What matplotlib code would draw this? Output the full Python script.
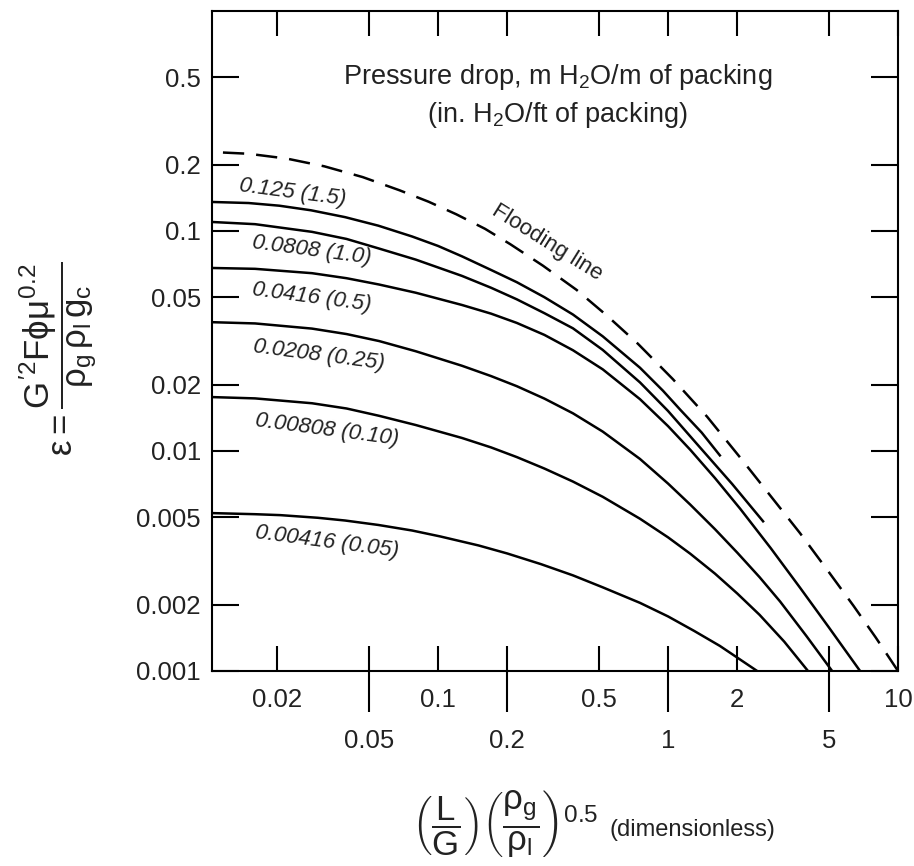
import matplotlib
matplotlib.use("Agg")
import matplotlib.pyplot as plt
from matplotlib.ticker import FixedLocator, NullLocator, NullFormatter

plt.rcParams["font.family"] = ["Liberation Sans", "DejaVu Sans"]
plt.rcParams["mathtext.fontset"] = "custom"
plt.rcParams["mathtext.rm"] = "Liberation Sans"
plt.rcParams["mathtext.it"] = "Liberation Sans"
plt.rcParams["mathtext.sf"] = "Liberation Sans"
plt.rcParams["mathtext.bf"] = "Liberation Sans:bold"

TXT = "#222222"

# flooding line (dashed)
flood_x = [0.0104, 0.015, 0.022, 0.032, 0.047, 0.068, 0.091, 0.12, 0.16, 0.206, 0.286,
           0.40, 0.54, 0.74, 1.05, 1.48, 2.06, 2.86, 3.75, 4.9, 6.4, 8.0, 10.0]
flood_y = [0.2286, 0.2244, 0.2133, 0.1968, 0.1758, 0.1531, 0.1358, 0.1191, 0.1023,
           0.0871, 0.0695, 0.0540, 0.0414, 0.0307, 0.0212, 0.0143, 0.00933, 0.00605,
           0.00423, 0.00290, 0.00198, 0.00142, 0.001]

# constant pressure-drop curves, m H2O/m (in. H2O/ft)
curve_labels = ["0.125 (1.5)", "0.0808 (1.0)", "0.0416 (0.5)",
                "0.0208 (0.25)", "0.00808 (0.10)", "0.00416 (0.05)"]

c125_x = [0.0104, 0.015, 0.0204, 0.028, 0.0394, 0.055, 0.0771, 0.1, 0.127, 0.17,
          0.22, 0.29, 0.386, 0.52, 0.755, 0.95, 1.13, 1.4, 1.68]
c125_y = [0.1355, 0.1340, 0.1303, 0.1242, 0.1156, 0.1057, 0.0944, 0.0855, 0.0767,
          0.0665, 0.0585, 0.0500, 0.0417, 0.0332, 0.0239, 0.0188, 0.0154, 0.01213,
          0.00955]

c0808_x = [0.0104, 0.016, 0.0283, 0.04, 0.0554, 0.08, 0.127, 0.17, 0.22, 0.29,
           0.386, 0.52, 0.755, 1.0, 1.38, 1.9, 2.59]
c0808_y = [0.1099, 0.1074, 0.0991, 0.0920, 0.0832, 0.0741, 0.0625, 0.0552, 0.0489,
           0.0423, 0.0361, 0.0288, 0.0205, 0.0152, 0.01035, 0.00708, 0.00479]

c0416_x = [0.0104, 0.016, 0.0283, 0.04, 0.0554, 0.08, 0.127, 0.17, 0.22, 0.29,
           0.386, 0.52, 0.755, 1.0, 1.25, 1.6, 2.06, 2.8, 3.75, 5.0, 6.84]
c0416_y = [0.0679, 0.0673, 0.0643, 0.0610, 0.0571, 0.0524, 0.0461, 0.0421, 0.0382,
           0.0337, 0.0287, 0.0235, 0.0172, 0.01297, 0.01012, 0.00753, 0.00546,
           0.00361, 0.00239, 0.00158, 0.001]

c0208_x = [0.0104, 0.016, 0.0283, 0.04, 0.0554, 0.08, 0.127, 0.17, 0.22, 0.29,
           0.386, 0.52, 0.755, 1.0, 1.25, 1.6, 2.0, 2.5, 3.07, 4.0, 5.17]
c0208_y = [0.0385, 0.0380, 0.0360, 0.0340, 0.0316, 0.0284, 0.0244, 0.0219, 0.0197,
           0.0173, 0.01483, 0.01225, 0.00920, 0.00711, 0.00570, 0.00441, 0.00345,
           0.00267, 0.00207, 0.00144, 0.001]

c00808_x = [0.0104, 0.016, 0.0283, 0.04, 0.0554, 0.08, 0.127, 0.17, 0.22, 0.29,
            0.386, 0.52, 0.755, 1.0, 1.25, 1.6, 2.0, 2.5, 3.2, 4.06]
c00808_y = [0.01758, 0.01734, 0.01648, 0.01560, 0.01445, 0.01312, 0.01146, 0.01038,
            0.00938, 0.00832, 0.00726, 0.00619, 0.00492, 0.00405, 0.00341, 0.00277,
            0.00225, 0.00180, 0.00136, 0.001]

c00416_x = [0.0104, 0.016, 0.0206, 0.03, 0.0394, 0.055, 0.0771, 0.102, 0.15, 0.2,
            0.28, 0.386, 0.52, 0.755, 1.0, 1.3, 1.68, 2.0, 2.44]
c00416_y = [0.00522, 0.00516, 0.00511, 0.00497, 0.00483, 0.00461, 0.00435, 0.00409,
            0.00372, 0.00342, 0.00306, 0.00272, 0.00240, 0.00204, 0.00177, 0.00152,
            0.00130, 0.00115, 0.001]

curves = [(c125_x, c125_y), (c0808_x, c0808_y), (c0416_x, c0416_y),
          (c0208_x, c0208_y), (c00808_x, c00808_y), (c00416_x, c00416_y)]

# label anchor points (data coords)
label_x = [0.0232, 0.0283, 0.0283, 0.0304, 0.0329, 0.0329]
label_y = [0.149, 0.082, 0.050, 0.0273, 0.01245, 0.00385]

yticks = [0.001, 0.002, 0.005, 0.01, 0.02, 0.05, 0.1, 0.2, 0.5]
ytick_labels = ["0.001", "0.002", "0.005", "0.01", "0.02", "0.05", "0.1", "0.2", "0.5"]
xticks_upper = [0.02, 0.1, 0.5, 2, 10]
xticks_upper_labels = ["0.02", "0.1", "0.5", "2", "10"]
xticks_lower = [0.05, 0.2, 1, 5]
xticks_lower_labels = ["0.05", "0.2", "1", "5"]

fig = plt.figure(figsize=(9.14, 8.66), dpi=100)
ax = fig.add_axes([0.232, 0.2252, 0.7505, 0.7621])
ax.set_xscale("log")
ax.set_yscale("log")

for cx, cy in curves:
    ax.plot(cx, cy, color="black", lw=1.8, solid_joinstyle="round")
# drawn from the lower-right corner so a dash lands on the corner
ax.plot(flood_x[::-1], flood_y[::-1], color="black", lw=1.8, ls=(0, (8.5, 4.8)))

ax.set_xlim(0.0104, 10)
ax.set_ylim(0.001, 1.0)

for txt, lx, ly in zip(curve_labels, label_x, label_y):
    ax.text(lx, ly, txt, fontsize=16, style="italic", rotation=-7.5,
            rotation_mode="anchor", ha="center", va="center", color=TXT)

ax.text(0.298, 0.089, "Flooding line", fontsize=16, rotation=-32,
        rotation_mode="anchor", ha="center", va="center", color=TXT)

ax.text(0.504, 0.90, "Pressure drop, m H$_2$O/m of packing", transform=ax.transAxes,
        fontsize=19.5, ha="center", va="center", color=TXT)
ax.text(0.504, 0.842, "(in. H$_2$O/ft of packing)", transform=ax.transAxes,
        fontsize=19.5, ha="center", va="center", color=TXT)

# axes, ticks
for sp in ax.spines.values():
    sp.set_linewidth(1.5)

ax.yaxis.set_major_locator(FixedLocator(yticks))
ax.yaxis.set_minor_locator(NullLocator())
ax.set_yticklabels(ytick_labels)
ax.tick_params(axis="y", which="major", direction="in", length=19.5, width=1.5,
               right=True, labelsize=18.5, pad=8, labelcolor=TXT)

ax.xaxis.set_major_locator(FixedLocator(xticks_upper))
ax.set_xticklabels(xticks_upper_labels)
ax.xaxis.set_minor_locator(FixedLocator(xticks_lower))
ax.xaxis.set_minor_formatter(NullFormatter())
ax.tick_params(axis="x", which="both", direction="in", length=18, width=1.5,
               top=True, labelsize=18.5, pad=12, labelcolor=TXT)

sec = ax.secondary_xaxis("bottom")
sec.set_xticks(xticks_lower, labels=xticks_lower_labels)
sec.xaxis.set_minor_locator(NullLocator())
sec.tick_params(axis="x", direction="out", length=29.5, width=1.5,
                labelsize=18.5, pad=12, labelcolor=TXT)
sec.spines["bottom"].set_visible(False)

# axis titles
fig.text(0.064, 0.586,
         r"$\epsilon = \dfrac{G^{\prime 2}F\phi\mu^{0.2}}{\rho_g\,\rho_l\,g_c}$",
         rotation=90, fontsize=25, ha="center", va="center", color=TXT)
fig.text(0.5525, 0.049,
         r"$\left(\dfrac{L}{G}\right)\left(\dfrac{\rho_g}{\rho_l}\right)^{0.5}$",
         fontsize=25, ha="center", va="center", color=TXT)
fig.text(0.667, 0.042, "(dimensionless)", fontsize=17, ha="left", va="center",
         color=TXT)

fig.savefig("out.png", dpi=100)
